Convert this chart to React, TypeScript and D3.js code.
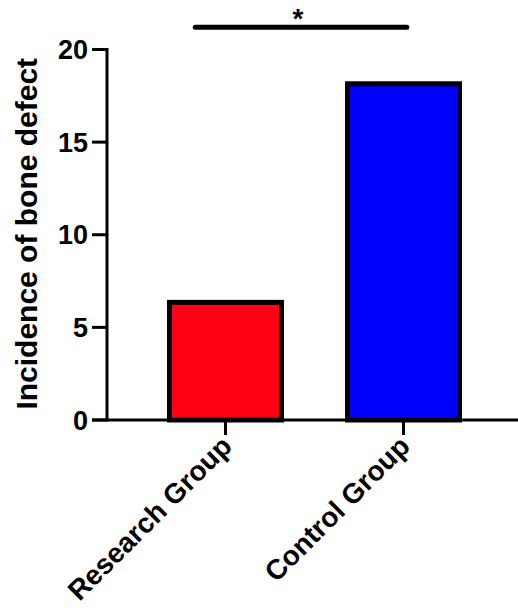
import React, { useEffect, useRef } from "react";
import * as d3 from "d3";

const groups = ["Research Group", "Control Group"];
const values = [6.35, 18.15];
const colors = ["#FF0014", "#0000FF"];
const yTicks = [0, 5, 10, 15, 20];
const yTitle = "Incidence of bone defect";
const sigLabel = "*";
const sigLevel = 21.2;

const FONT = "'Liberation Sans', Arial, sans-serif";

const App: React.FC = () => {
  const svgRef: any = useRef();

  useEffect(() => {
    const svg = d3.select(svgRef.current);
    svg.selectAll("*").remove();

    const axisX = 107;
    const y0 = 420;

    const xScale = d3
      .scaleBand()
      .domain(groups)
      .range([axisX, 522])
      .paddingInner(0.371)
      .paddingOuter(0.351);

    const yScale = d3.scaleLinear().domain([0, 20]).range([y0, 49.5]);

    // bars
    groups.forEach((g, i) => {
      svg
        .append("rect")
        .attr("x", xScale(g) as number)
        .attr("y", yScale(values[i]))
        .attr("width", xScale.bandwidth())
        .attr("height", y0 - yScale(values[i]))
        .attr("fill", colors[i])
        .attr("stroke", "#000")
        .attr("stroke-width", 5);
    });

    // y axis
    svg
      .append("line")
      .attr("x1", axisX)
      .attr("x2", axisX)
      .attr("y1", yScale(20) - 1.5)
      .attr("y2", y0 + 1.5)
      .attr("stroke", "#000")
      .attr("stroke-width", 3);

    yTicks.forEach((t) => {
      svg
        .append("line")
        .attr("x1", axisX - 15)
        .attr("x2", axisX)
        .attr("y1", yScale(t))
        .attr("y2", yScale(t))
        .attr("stroke", "#000")
        .attr("stroke-width", 3);

      svg
        .append("text")
        .attr("x", axisX - 19)
        .attr("y", yScale(t))
        .attr("dy", "0.36em")
        .attr("text-anchor", "end")
        .attr("font-family", FONT)
        .attr("font-weight", "bold")
        .attr("font-size", "27px")
        .attr("fill", "#000")
        .text(t);
    });

    // x axis
    svg
      .append("line")
      .attr("x1", axisX - 15)
      .attr("x2", 518)
      .attr("y1", y0)
      .attr("y2", y0)
      .attr("stroke", "#000")
      .attr("stroke-width", 3);

    groups.forEach((g) => {
      const cx = (xScale(g) as number) + xScale.bandwidth() / 2;
      svg
        .append("line")
        .attr("x1", cx)
        .attr("x2", cx)
        .attr("y1", y0)
        .attr("y2", y0 + 15)
        .attr("stroke", "#000")
        .attr("stroke-width", 3);

      svg
        .append("text")
        .attr("transform", `translate(${cx + 8},${y0 + 28}) rotate(-45)`)
        .attr("text-anchor", "end")
        .attr("font-family", FONT)
        .attr("font-weight", "bold")
        .attr("font-size", "28px")
        .attr("fill", "#000")
        .text(g);
    });

    // y title
    svg
      .append("text")
      .attr("transform", `translate(37,${(yScale(20) + y0) / 2 - 1}) rotate(-90)`)
      .attr("text-anchor", "middle")
      .attr("font-family", FONT)
      .attr("font-weight", "bold")
      .attr("font-size", "30px")
      .attr("fill", "#000")
      .text(yTitle);

    // significance bar
    const sx1 = (xScale(groups[0]) as number) + xScale.bandwidth() * 0.23;
    const sx2 = (xScale(groups[1]) as number) + xScale.bandwidth() * 0.53;
    svg
      .append("line")
      .attr("x1", sx1)
      .attr("x2", sx2)
      .attr("y1", yScale(sigLevel))
      .attr("y2", yScale(sigLevel))
      .attr("stroke", "#000")
      .attr("stroke-width", 5)
      .attr("stroke-linecap", "round");

    svg
      .append("text")
      .attr("x", (sx1 + sx2) / 2 - 3)
      .attr("y", yScale(sigLevel) + 1)
      .attr("text-anchor", "middle")
      .attr("font-family", FONT)
      .attr("font-weight", "bold")
      .attr("font-size", "28px")
      .attr("fill", "#000")
      .text(sigLabel);
  }, []);

  return (
    <svg
      ref={svgRef}
      width={518}
      height={611}
      style={{ position: "fixed", top: 0, left: 0, background: "#fff" }}
    />
  );
};

export default App;
